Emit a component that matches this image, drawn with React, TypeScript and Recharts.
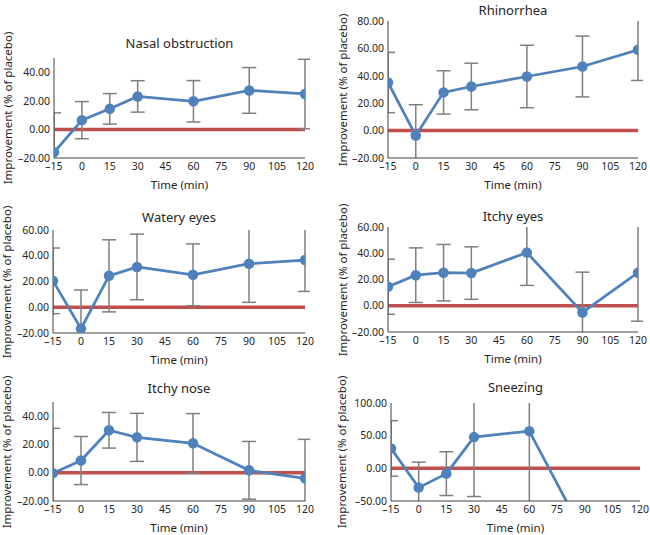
import React from "react"
import { LineChart, Line, XAxis, YAxis, ErrorBar, Label } from "recharts"

// time points (min) shared by all six panels
const times = [-15, 0, 15, 30, 60, 90, 120]
const xTicks = [-15, 0, 15, 30, 45, 60, 75, 90, 105, 120]

// improvement (% of placebo) and +/- error per symptom
const nasalObstruction = [-16, 6.5, 14.4, 23.1, 19.7, 27.3, 24.8]
const nasalObstructionErr = [27.6, 13, 10.7, 11, 14.5, 16, 24.3]

const rhinorrhea = [35.1, -3.6, 27.9, 32.2, 39.5, 46.8, 59]
const rhinorrheaErr = [22, 22.5, 15.8, 17, 22.8, 22.2, 22.4]

const wateryEyes = [20.5, -16.6, 24.4, 31.3, 25.2, 33.8, 36.7]
const wateryEyesErr = [25.5, 30, 28, 25.5, 24, 30, 24.4]

const itchyEyes = [14.5, 23.3, 25.2, 24.9, 40.5, -5.1, 25.2]
const itchyEyesErr = [21, 20.8, 21.5, 20, 25, 30.7, 37]

const itchyNose = [-0.3, 8.6, 30, 25, 20.8, 1.7, -4]
const itchyNoseErr = [31.7, 17, 12.6, 17, 21, 20.4, 27.6]

const sneezing = [30.5, -29.5, -8.1, 47.8, 56.9, -103, -110]
const sneezingErr = [42.5, 39, 33.5, 91, 130, 30, 30]

const W = 650
const H = 535
const Y_AXIS_W = 45
const X_AXIS_H = 33
const FONT = "'Noto Sans', 'Open Sans', sans-serif"
const TEXT = "#262626"

interface PlotBox {
  left: number;
  right: number;
  top: number;
  bottom: number;
}

interface PanelProps {
  title: string;
  values: number[];
  errors: number[];
  domain: [number, number];
  yTicks: number[];
  plot: PlotBox;
  titleY: number;
  labelX: number;
}

const fmtNum = (v: number, digits = 0) => {
  const s = Math.abs(v).toFixed(digits)
  return v < 0 ? `\u2013${s}` : s
}

const Panel: React.FC<PanelProps> = ({ title, values, errors, domain, yTicks, plot, titleY, labelX }) => {
  const data = times.map((t, i) => ({ time: t, value: values[i], err: errors[i], placebo: 0 }))
  const margin = {
    left: plot.left - Y_AXIS_W,
    right: W - plot.right,
    top: plot.top,
    bottom: H - plot.bottom - X_AXIS_H,
  }
  // same plot area, no axes: used for the clipped layer (baseline + error bars)
  const innerMargin = {
    left: plot.left,
    right: W - plot.right,
    top: plot.top,
    bottom: H - plot.bottom,
  }
  const midX = (plot.left + plot.right) / 2
  const midY = (plot.top + plot.bottom) / 2
  // the plot area runs a few px past the last point, so the 120 caps stay whole
  const clipRight = Math.max(0, W - plot.right - 5)

  return (
    <>
      {/* baseline and error bars, clipped to the plot area like Excel does */}
      <div
        style={{
          position: "absolute",
          left: 0,
          top: 0,
          clipPath: `inset(${plot.top}px ${clipRight}px ${H - plot.bottom}px ${plot.left}px)`,
        }}
      >
        <LineChart width={W} height={H} data={data} margin={innerMargin}>
          <XAxis dataKey="time" type="number" domain={[-15, 120]} allowDataOverflow hide />
          <YAxis type="number" domain={domain} allowDataOverflow hide />
          <Line
            dataKey="placebo"
            type="linear"
            stroke="#c0504d"
            strokeWidth={3.5}
            dot={false}
            isAnimationActive={false}
          />
          <Line dataKey="value" stroke="none" dot={false} isAnimationActive={false}>
            <ErrorBar dataKey="err" direction="y" width={7} strokeWidth={1.5} stroke="#7f7f7f" />
          </Line>
        </LineChart>
      </div>

      <div style={{ position: "absolute", left: 0, top: 0 }}>
        <LineChart width={W} height={H} data={data} margin={margin}>
          <XAxis
            dataKey="time"
            type="number"
            domain={[-15, 120]}
            ticks={xTicks}
            allowDataOverflow
            height={X_AXIS_H}
            tickLine={false}
            tickSize={0}
            tickMargin={5}
            stroke="#404040"
            tick={{ fontSize: 10.5, fill: TEXT }}
            tickFormatter={(v: number) => fmtNum(v)}
            interval={0}
          >
            <Label value="Time (min)" position="insideBottom" offset={2} fontSize={11.5} fill={TEXT} />
          </XAxis>
          <YAxis
            type="number"
            domain={domain}
            ticks={yTicks}
            allowDataOverflow
            width={Y_AXIS_W}
            tickLine={false}
            tickSize={0}
            tickMargin={4}
            stroke="#404040"
            tick={{ fontSize: 10.5, fill: TEXT }}
            tickFormatter={(v: number) => fmtNum(v, 2)}
            interval={0}
          />
          <Line
            dataKey="value"
            type="linear"
            stroke="#4f81bd"
            strokeWidth={2.75}
            dot={{ r: 5.25, fill: "#4f81bd", stroke: "#4f81bd", strokeWidth: 0 }}
            isAnimationActive={false}
          />
        </LineChart>
      </div>

      <div
        style={{
          position: "absolute",
          left: midX,
          top: titleY,
          transform: "translate(-50%, -50%)",
          fontSize: 13,
          lineHeight: "16px",
          color: TEXT,
          whiteSpace: "nowrap",
        }}
      >
        {title}
      </div>
      <div
        style={{
          position: "absolute",
          left: labelX,
          top: midY,
          transform: "translate(-50%, -50%) rotate(-90deg)",
          fontSize: 11.5,
          lineHeight: "14px",
          color: TEXT,
          whiteSpace: "nowrap",
        }}
      >
        Improvement (% of placebo)
      </div>
    </>
  )
}

export default function App() {
  return (
    <div
      style={{
        position: "absolute",
        left: 0,
        top: 0,
        width: W,
        height: H,
        background: "#fff",
        overflow: "hidden",
        fontFamily: FONT,
      }}
    >
      <Panel
        title="Nasal obstruction"
        values={nasalObstruction}
        errors={nasalObstructionErr}
        domain={[-20, 50]}
        yTicks={[-20, 0, 20, 40]}
        plot={{ left: 54, right: 305, top: 58, bottom: 158 }}
        titleY={43}
        labelX={8}
      />
      <Panel
        title="Rhinorrhea"
        values={rhinorrhea}
        errors={rhinorrheaErr}
        domain={[-20, 80]}
        yTicks={[-20, 0, 20, 40, 60, 80]}
        plot={{ left: 388, right: 638, top: 21, bottom: 158 }}
        titleY={10}
        labelX={343}
      />
      <Panel
        title="Watery eyes"
        values={wateryEyes}
        errors={wateryEyesErr}
        domain={[-20, 60]}
        yTicks={[-20, 0, 20, 40, 60]}
        plot={{ left: 53, right: 305, top: 230, bottom: 333 }}
        titleY={217}
        labelX={7}
      />
      <Panel
        title="Itchy eyes"
        values={itchyEyes}
        errors={itchyEyesErr}
        domain={[-20, 60]}
        yTicks={[-20, 0, 20, 40, 60]}
        plot={{ left: 388, right: 638, top: 227, bottom: 332 }}
        titleY={216}
        labelX={343}
      />
      <Panel
        title="Itchy nose"
        values={itchyNose}
        errors={itchyNoseErr}
        domain={[-20, 50]}
        yTicks={[-20, 0, 20, 40]}
        plot={{ left: 53, right: 305, top: 402, bottom: 501 }}
        titleY={388}
        labelX={7}
      />
      <Panel
        title="Sneezing"
        values={sneezing}
        errors={sneezingErr}
        domain={[-50, 100]}
        yTicks={[-50, 0, 50, 100]}
        plot={{ left: 391, right: 640, top: 403, bottom: 501 }}
        titleY={387}
        labelX={342}
      />
    </div>
  )
}
